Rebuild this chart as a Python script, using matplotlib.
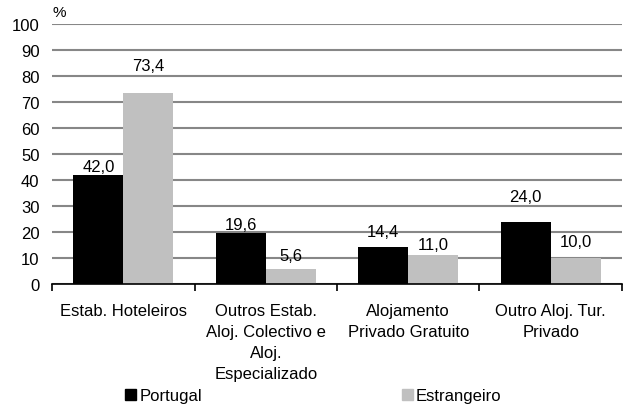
import numpy as np
import matplotlib
matplotlib.use('Agg')
import matplotlib.pyplot as plt
from matplotlib.patches import Patch

categories = ["Estab. Hoteleiros",
              "Outros Estab.\nAloj. Colectivo e\nAloj.\nEspecializado",
              "Alojamento\nPrivado Gratuito",
              "Outro Aloj. Tur.\nPrivado"]
portugal = [42.0, 19.6, 14.4, 24.0]
estrangeiro = [73.4, 5.6, 11.0, 10.0]
series_names = ["Portugal", "Estrangeiro"]

# label lift above the bar top, in pixels (as placed in the original)
lift_pt = [8, 9, 15, 25]
lift_es = [28, 14, 11, 16]

plt.rcParams['font.family'] = ['Liberation Sans', 'DejaVu Sans']
FS = 12

fig = plt.figure(figsize=(6.27, 4.10), dpi=100)
ax = fig.add_axes([0.083, 0.305, 0.909, 0.634])

x = np.arange(len(categories))
w = 0.35
b1 = ax.bar(x - w / 2, portugal, w, color='black', zorder=3)
b2 = ax.bar(x + w / 2, estrangeiro, w, color='#c0c0c0', zorder=3)

def fmt(v):
    return f"{v:.1f}".replace('.', ',')

for bars, vals, lifts in ((b1, portugal, lift_pt), (b2, estrangeiro, lift_es)):
    for r, v, lf in zip(bars, vals, lifts):
        ax.annotate(fmt(v), (r.get_x() + r.get_width() / 2, v),
                    xytext=(0, lf), textcoords='offset pixels',
                    ha='center', va='center', fontsize=FS)

ax.set_xlim(-0.5, len(categories) - 0.5)
ax.set_ylim(0, 100)
ax.set_yticks(np.arange(0, 101, 10))
ax.yaxis.grid(True, color='#878787', linewidth=1.5, zorder=0)
ax.tick_params(axis='y', length=0, labelsize=FS, pad=9)

ax.set_xticks(np.arange(-0.5, len(categories)), minor=False)
ax.set_xticklabels([])
ax.set_xticks(x, minor=True)
ax.set_xticklabels(categories, minor=True, fontsize=FS, linespacing=1.5,
                   va='top')
ax.tick_params(axis='x', which='major', direction='out', length=5, width=1.2)
ax.tick_params(axis='x', which='minor', length=0, pad=14)

for s in ('left', 'right', 'top'):
    ax.spines[s].set_visible(False)
ax.spines['bottom'].set_linewidth(1.2)
ax.spines['bottom'].set_zorder(4)

ax.text(-0.5, 101.8, "%", fontsize=FS - 1, ha='left', va='bottom')

handles = [Patch(color='black'), Patch(color='#c0c0c0')]
fig.legend(handles, series_names, loc='center left',
           bbox_to_anchor=(125 / 627, 1 - 397 / 410),
           ncol=2, frameon=False, fontsize=FS, handlelength=0.65,
           handleheight=0.65, handletextpad=0.2, columnspacing=12.0,
           borderpad=0, borderaxespad=0)

fig.savefig("out.png", dpi=100)
